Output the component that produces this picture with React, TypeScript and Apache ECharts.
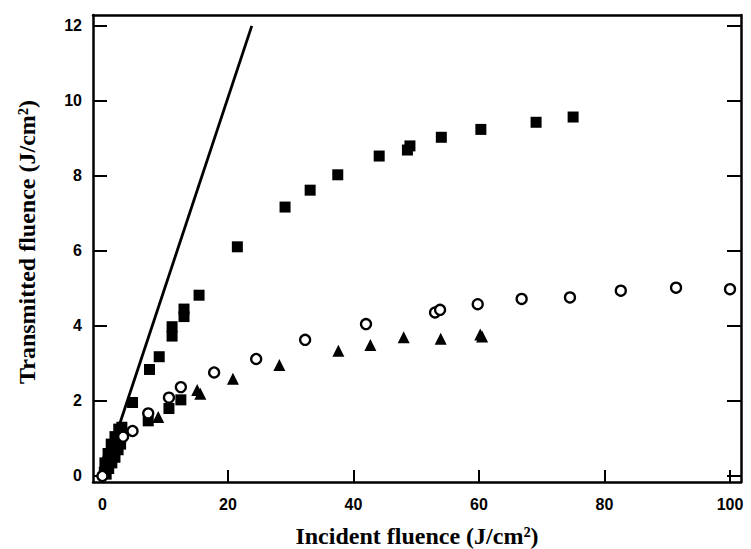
import React, { useEffect, useRef } from "react";
import * as echarts from "echarts";

const xTicks = [0, 20, 40, 60, 80, 100];
const yTicks = [0, 2, 4, 6, 8, 10, 12];

const xTitle = "Incident fluence (J/cm²)";
const yTitle = "Transmitted fluence (J/cm²)";

// Reference line (linear transmission)
const linearLine = [
  [0, 0],
  [23.8, 12],
];

// Filled squares
const squareData = [
  [0.3, 0.1], [0.5, 0.2], [0.7, 0.3], [0.9, 0.4], [1.1, 0.5], [1.3, 0.55],
  [1.5, 0.65], [1.7, 0.75], [1.9, 0.8], [2.1, 0.9], [2.4, 0.95], [2.7, 1.05],
  [3.0, 1.15], [3.1, 1.3],
  [0.6, 0.05], [1.0, 0.2], [1.5, 0.35], [2.0, 0.5], [2.5, 0.7], [2.9, 0.85],
  [0.4, 0.35], [0.9, 0.6], [1.4, 0.85], [2.0, 1.05], [2.6, 1.25],
  [4.8, 1.96], [7.3, 1.47], [7.5, 2.84], [9.05, 3.18],
  [10.6, 1.8], [11.1, 3.73], [11.1, 3.98], [12.5, 2.03], [13.0, 4.25], [13.0, 4.45],
  [15.4, 4.82], [21.5, 6.11], [29.1, 7.17], [33.1, 7.62], [37.5, 8.03], [44.1, 8.53],
  [48.6, 8.69], [49.0, 8.8], [54.0, 9.03], [60.3, 9.24], [69.1, 9.43], [75.0, 9.57],
];

// Open circles
const circleData = [
  [0, 0], [3.3, 1.05], [4.8, 1.2], [7.3, 1.67], [10.6, 2.09], [12.5, 2.37],
  [17.8, 2.76], [24.5, 3.12], [32.3, 3.63], [42.0, 4.05], [53.0, 4.36], [53.8, 4.43],
  [59.8, 4.58], [66.8, 4.72], [74.5, 4.76], [82.6, 4.94], [91.4, 5.02], [100, 4.98],
];

// Filled triangles
const triangleData = [
  [8.9, 1.57], [15.1, 2.29], [15.6, 2.19], [20.8, 2.59], [28.2, 2.96], [37.6, 3.34],
  [42.7, 3.49], [48.0, 3.7], [53.9, 3.66], [60.2, 3.77], [60.5, 3.72],
];

const tickFont = {
  fontFamily: "Liberation Sans, Arial, sans-serif",
  fontWeight: "bold" as const,
  fontSize: 16,
  color: "#000",
};

const titleFont = "bold 24px 'Liberation Serif', 'Times New Roman', serif";

export default function App() {
  const ref = useRef<HTMLDivElement>(null);

  useEffect(() => {
    if (!ref.current) return;
    const chart = echarts.init(ref.current, undefined, { renderer: "svg" });
    const axisLine = { show: true, onZero: false, lineStyle: { color: "#000", width: 2.5 } };
    chart.setOption({
      animation: false,
      backgroundColor: "#fff",
      grid: { left: 93, right: 10, top: 15, bottom: 67, containLabel: false },
      xAxis: [
        {
          type: "value",
          min: -1.5,
          max: 101.75,
          position: "bottom",
          axisLine,
          axisTick: { show: true, inside: true, length: 12, customValues: xTicks, lineStyle: { color: "#000", width: 2 } },
          axisLabel: { show: true, customValues: xTicks, margin: 14, ...tickFont },
          splitLine: { show: false },
        },
        {
          type: "value",
          min: -1.5,
          max: 101.75,
          position: "top",
          axisLine,
          axisTick: { show: false },
          axisLabel: { show: false },
          splitLine: { show: false },
        },
      ],
      yAxis: [
        {
          type: "value",
          min: -0.16,
          max: 12.29,
          position: "left",
          axisLine,
          axisTick: { show: true, inside: true, length: 14, customValues: yTicks, lineStyle: { color: "#000", width: 2 } },
          axisLabel: { show: true, customValues: yTicks, margin: 11, ...tickFont },
          splitLine: { show: false },
        },
        {
          type: "value",
          min: -0.16,
          max: 12.29,
          position: "right",
          axisLine,
          axisTick: { show: true, inside: true, length: 14, customValues: yTicks, lineStyle: { color: "#000", width: 2 } },
          axisLabel: { show: false },
          splitLine: { show: false },
        },
      ],
      graphic: [
        {
          type: "text",
          x: 417,
          y: 536,
          style: { text: xTitle, font: titleFont, fill: "#000", textAlign: "center", textVerticalAlign: "middle" },
        },
        {
          type: "text",
          x: 27,
          y: 242,
          rotation: Math.PI / 2,
          style: { text: yTitle, font: titleFont, fill: "#000", textAlign: "center", textVerticalAlign: "middle" },
        },
      ],
      series: [
        {
          type: "line",
          data: linearLine,
          symbol: "none",
          lineStyle: { color: "#000", width: 2.8 },
          z: 2,
        },
        {
          type: "scatter",
          data: squareData,
          symbol: "rect",
          symbolSize: 11,
          itemStyle: { color: "#000", opacity: 1 },
          z: 3,
        },
        {
          type: "scatter",
          data: triangleData,
          symbol: "triangle",
          symbolSize: 12,
          itemStyle: { color: "#000", opacity: 1 },
          z: 3,
        },
        {
          type: "scatter",
          data: circleData,
          symbol: "circle",
          symbolSize: 10,
          itemStyle: { color: "#fff", borderColor: "#000", borderWidth: 2.3, opacity: 1 },
          z: 4,
        },
      ],
    });
    return () => chart.dispose();
  }, []);

  return (
    <div
      ref={ref}
      style={{ position: "fixed", left: 0, top: 0, width: 751, height: 549, background: "#fff" }}
    />
  );
}
